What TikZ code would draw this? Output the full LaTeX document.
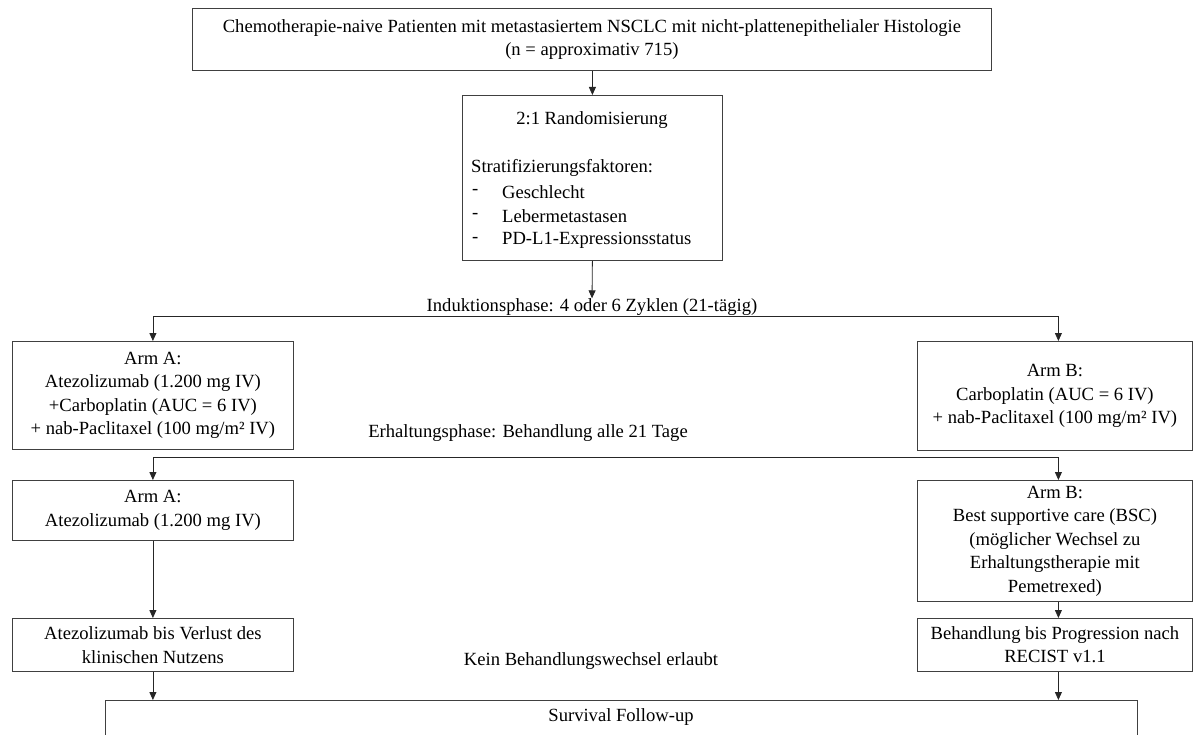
\documentclass[tikz,border=0pt]{standalone}
\usepackage{fontspec}
\setmainfont{Liberation Serif}
\usetikzlibrary{arrows.meta}
\begin{document}
\begin{tikzpicture}[x=1pt,y=-1pt,
  txt/.style={font=\fontsize{18.6}{23.5}\selectfont},
  box/.style={draw=black!75, line width=0.8pt, inner sep=0pt, align=center, anchor=north west, txt},
  lbl/.style={inner sep=0pt, txt},
  arr/.style={-{Triangle[length=8pt,width=7pt]}, line width=0.8pt, draw=black!85}]
\useasboundingbox (0,0) rectangle (1193,735);
\clip (0,0) rectangle (1193,735);
% boxes
\node[box, minimum width=799pt, minimum height=62pt] (top) at (192,8)
  {Chemotherapie-naive Patienten mit metastasiertem NSCLC mit nicht-plattenepithelialer Histologie\\(n = approximativ 715)};
\node[box, minimum width=260pt, minimum height=165pt] (rand) at (462,95) {};
\node[lbl] (randt) at (592,120) {2:1 Randomisierung};
\node[lbl, anchor=west] (strat) at (471,168) {Stratifizierungsfaktoren:};
\node[lbl, anchor=west] (d1) at (472,192) {-};
\node[lbl, anchor=west] (d2) at (472,216) {-};
\node[lbl, anchor=west] (d3) at (472,240) {-};
\node[lbl, anchor=west] (s1) at (502,192) {Geschlecht};
\node[lbl, anchor=west] (s2) at (502,216) {Lebermetastasen};
\node[lbl, anchor=west] (s3) at (502,240) {PD-L1-Expressionsstatus};

\node[lbl] (ind) at (592,307) {Induktionsphase: 4 oder 6 Zyklen (21-tägig)};
\node[lbl] (erh) at (528,433) {Erhaltungsphase: Behandlung alle 21 Tage};
\node[lbl] (kein) at (591,661) {Kein Behandlungswechsel erlaubt};

\node[box, minimum width=281pt, minimum height=108pt] (armAi) at (12,341)
  {Arm A:\\Atezolizumab (1.200 mg IV)\\+Carboplatin (AUC = 6 IV)\\+ nab-Paclitaxel (100 mg/m² IV)};
\node[box, minimum width=275pt, minimum height=109pt] (armBi) at (917,341)
  {Arm B:\\Carboplatin (AUC = 6 IV)\\+ nab-Paclitaxel (100 mg/m² IV)};
\node[box, minimum width=281pt, minimum height=60pt] (armAm) at (12,480)
  {Arm A:\\Atezolizumab (1.200 mg IV)};
\node[box, minimum width=275pt, minimum height=121pt] (armBm) at (917,480)
  {Arm B:\\Best supportive care (BSC)\\(möglicher Wechsel zu\\Erhaltungstherapie mit\\Pemetrexed)};
\node[box, minimum width=281pt, minimum height=53pt] (atz) at (12,618)
  {Atezolizumab bis Verlust des\\klinischen Nutzens};
\node[box, minimum width=275pt, minimum height=53pt] (beh) at (917,618)
  {Behandlung bis Progression nach\\RECIST v1.1};
\node[box, minimum width=1032pt, minimum height=80pt] (surv) at (105,700) {};
\node[lbl] (survt) at (621,717) {Survival Follow-up};

% connectors
\coordinate (j1) at (592,316);
\coordinate (j2) at (600,457);
\draw[arr] (top.south -| rand.north) -- (rand.north);
\draw[arr] (rand.south) -- (ind.north);
\draw[arr] (j1) -| (armAi.north);
\draw[arr] (j1) -| ([xshift=3.5pt]armBi.north);
\draw[arr] (j2) -| (armAm.north);
\draw[arr] (j2) -| ([xshift=3.5pt]armBm.north);
\draw[arr] (armAm.south) -- (atz.north);
\draw[arr] ([xshift=3.5pt]armBm.south) -- ([xshift=3.5pt]beh.north);
\draw[arr] (atz.south) -- (atz.south |- surv.north);
\draw[arr] ([xshift=3.5pt]beh.south) -- ([xshift=3.5pt]beh.south |- surv.north);
\end{tikzpicture}
\end{document}
